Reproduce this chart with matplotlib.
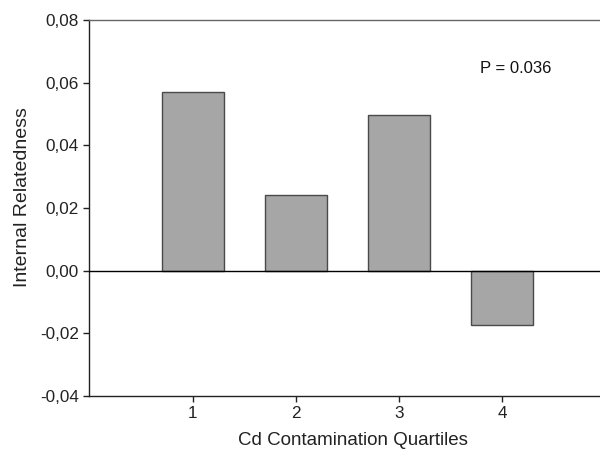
import matplotlib
matplotlib.use("Agg")
import matplotlib.pyplot as plt

# --- data ---
quartiles = [1, 2, 3, 4]
relatedness = [0.0570, 0.0243, 0.0496, -0.0173]
y_ticks = [-0.04, -0.02, 0.00, 0.02, 0.04, 0.06, 0.08]
y_tick_labels = ["-0,04", "-0,02", "0,00", "0,02", "0,04", "0,06", "0,08"]
p_text = "P = 0.036"

plt.rcParams['font.family'] = ['Liberation Sans', 'DejaVu Sans']

fig = plt.figure(figsize=(6.0, 4.49), dpi=100)
ax = fig.add_axes([0.1475, 0.118, 0.8525, 0.8375])

ax.bar(quartiles, relatedness, width=0.6, color='#a6a6a6',
       edgecolor='#4a4a4a', linewidth=1.0, zorder=2)
ax.axhline(0, color='black', linewidth=1.0, zorder=3)

ax.set_xlim(-0.01, 4.95)
ax.set_ylim(-0.04, 0.08)
ax.set_xticks(quartiles)
ax.set_yticks(y_ticks)
ax.set_yticklabels(y_tick_labels)

ax.tick_params(axis='both', direction='out', length=4, width=1,
               labelsize=12.3, colors='#222222', pad=3)

for side in ['left', 'bottom']:
    ax.spines[side].set_color('#222222')
    ax.spines[side].set_linewidth(1.0)
ax.spines['top'].set_color('#666666')
ax.spines['top'].set_linewidth(1.0)
ax.spines['right'].set_visible(False)

ax.set_xlabel('Cd Contamination Quartiles', fontsize=13.5, color='#222222')
ax.set_ylabel('Internal Relatedness', fontsize=14, color='#222222')
# the original plot area runs past the right edge, so labels sit off-centre
ax.xaxis.set_label_coords(0.517, -0.097)
ax.yaxis.set_label_coords(-0.113, 0.529)

ax.text(4.13, 0.0646, p_text, fontsize=12, ha='center', va='center', color='#111111')

fig.savefig('out.png', dpi=100)
